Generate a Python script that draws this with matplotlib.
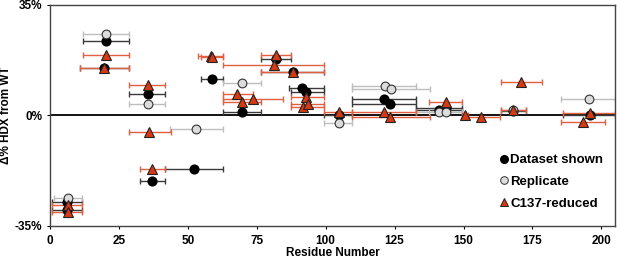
import numpy as np
import matplotlib
matplotlib.use("Agg")
import matplotlib.pyplot as plt
from matplotlib.lines import Line2D

plt.rcParams.update(
    {
        "font.family": ["Liberation Sans", "DejaVu Sans"],
        "font.weight": "bold",
        "font.size": 8.5,
    }
)

# Dataset shown (black)
ds_x = [20.3, 19.6, 35.4, 58.7, 69.7, 37.1, 52.2, 82.1, 88.2, 91.5, 93.0, 104.7,
        121.0, 123.4, 141.0, 143.5, 168.0, 195.7, 6.0, 6.0]
ds_y = [23.5, 14.9, 6.8, 11.4, 0.9, -20.8, -17.0, 18.0, 13.6, 8.7, 7.4, 0.0,
        5.3, 3.7, 1.8, 2.2, 1.3, 0.2, -27.5, -30.0]
ds_lo = [11.8, 10.9, 28.6, 54.7, 62.6, 32.6, 41.9, 76.7, 76.7, 86.6, 87.5, 99.5,
         109.5, 109.5, 132.6, 132.6, 163.6, 186.2, 0.6, 0.6]
ds_hi = [28.6, 28.6, 41.7, 62.6, 76.4, 41.9, 62.8, 87.5, 99.4, 99.4, 99.4, 109.5,
         132.6, 132.6, 149.5, 149.5, 172.5, 205.0, 11.5, 11.5]

# Replicate (grey)
rp_x = [20.3, 35.4, 69.7, 52.8, 104.7, 121.4, 123.8, 141.0, 143.5, 195.4, 6.6, 168.0]
rp_y = [25.9, 3.6, 10.3, -4.3, -2.4, 9.3, 8.3, 1.05, 1.05, 5.3, -26.3, 1.6]
rp_lo = [11.8, 28.6, 62.6, 43.7, 99.5, 109.5, 109.5, 132.6, 137.4, 185.4, 1.5, 163.6]
rp_hi = [28.6, 41.7, 76.4, 62.6, 109.5, 132.6, 137.7, 149.5, 149.5, 205.0, 11.5, 172.5]

# C137-reduced (red)
rd_x = [20.3, 19.6, 35.4, 58.3, 58.8, 68.0, 69.7, 73.7, 36.0, 37.1, 82.1, 81.2,
        88.2, 93.0, 91.8, 93.6, 104.7, 121.0, 123.2, 143.5, 150.4, 156.4, 171.0,
        168.0, 195.7, 193.2, 6.5, 6.5]
rd_y = [19.1, 14.9, 9.5, 18.8, 18.4, 6.7, 4.2, 5.1, -5.3, -17.0, 19.1, 15.9,
        13.8, 5.8, 2.6, 3.5, 1.1, 1.1, -0.5, 4.2, 0.0, -0.7, 10.6,
        1.6, 0.7, -2.1, -28.5, -30.8]
rd_lo = [11.8, 10.9, 28.6, 53.6, 54.7, 62.6, 62.6, 62.6, 28.7, 32.6, 76.7, 62.6,
         76.7, 87.5, 87.5, 87.5, 99.5, 109.5, 109.5, 137.4, 149.5, 150.6, 163.6,
         163.6, 186.2, 185.4, 0.6, 0.6]
rd_hi = [28.6, 28.6, 41.7, 62.6, 62.6, 73.5, 76.4, 84.5, 43.8, 41.9, 87.5, 99.4,
         99.4, 99.4, 99.4, 99.4, 109.5, 132.6, 137.7, 149.5, 151.5, 163.4, 178.4,
         172.5, 205.0, 201.4, 11.5, 11.5]

red = "#d63a12"

fig = plt.figure(figsize=(6.17, 2.59), dpi=100)
ax = fig.add_axes([0.081, 0.129, 0.916, 0.852])

ax.axhline(0, color="black", lw=1.3, zorder=1)


def serie(x, y, lo, hi, ecol, **kw):
    x = np.array(x)
    xerr = [x - np.array(lo), np.array(hi) - x]
    ax.errorbar(x, y, xerr=xerr, fmt="none", ecolor=ecol, elinewidth=1,
                capsize=2.5, capthick=1, zorder=2)
    ax.plot(x, y, ls="none", **kw)


serie(ds_x, ds_y, ds_lo, ds_hi, "#3a3a3a", marker="o", ms=6.3, mfc="black",
      mec="black", zorder=3)
serie(rp_x, rp_y, rp_lo, rp_hi, "#bdbdbd", marker="o", ms=6.3, mfc="#dcdcdc",
      mec="#333333", mew=0.8, zorder=4)
serie(rd_x, rd_y, rd_lo, rd_hi, "#e06040", marker="^", ms=7, mfc=red,
      mec="#222222", mew=0.8, zorder=5)

ax.set_xlim(0, 205)
ax.set_ylim(-35, 35)
ax.set_xticks([0, 25, 50, 75, 100, 125, 150, 175, 200])
ax.set_yticks([-35, 0, 35])
ax.set_yticklabels(["-35%", "0%", "35%"])
ax.tick_params(axis="both", labelsize=8.5, length=2.5, width=0.8)
ax.tick_params(axis="x", pad=4)
ax.tick_params(axis="y", pad=3)
for s in ax.spines.values():
    s.set_color("#444444")
    s.set_linewidth(1)
ax.set_xlabel("Residue Number", fontsize=8.5, fontweight="bold", labelpad=0)
ax.set_ylabel("Δ% HDX from WT", fontsize=8.5, fontweight="bold", labelpad=2)

handles = [
    Line2D([], [], ls="none", marker="o", ms=5.5, mfc="black", mec="black"),
    Line2D([], [], ls="none", marker="o", ms=5.5, mfc="#dcdcdc", mec="#333333", mew=0.7),
    Line2D([], [], ls="none", marker="^", ms=6, mfc=red, mec="#222222", mew=0.7),
]
ax.legend(handles, ["Dataset shown", "Replicate", "C137-reduced"], loc="lower right",
          bbox_to_anchor=(0.995, 0.03), frameon=False, fontsize=9.5,
          handlelength=0.6, handletextpad=0.15, labelspacing=0.72, borderpad=0.2)

fig.savefig("out.png", dpi=100)
